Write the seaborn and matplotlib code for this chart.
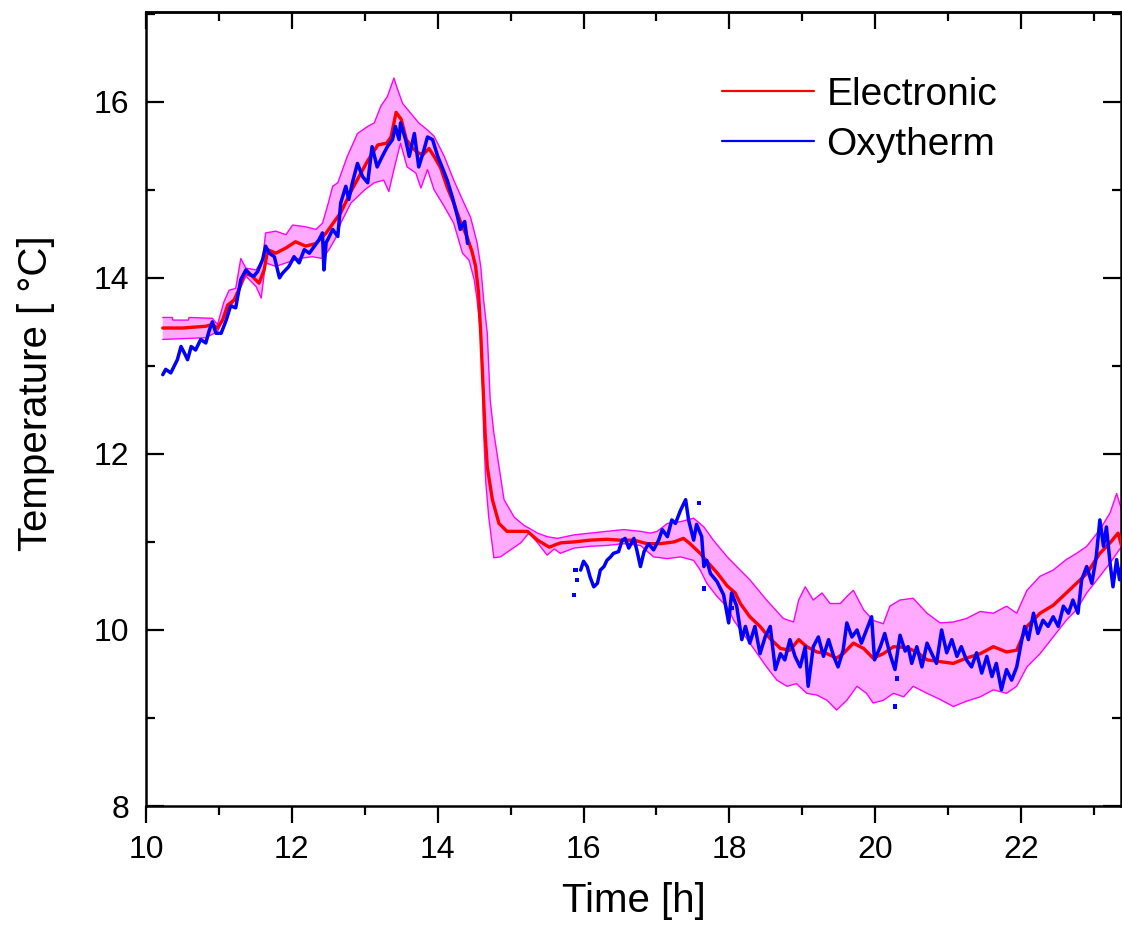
import numpy as np
import pandas as pd
import matplotlib
matplotlib.use("Agg")
import matplotlib.pyplot as plt
from matplotlib.lines import Line2D
from matplotlib.ticker import MultipleLocator
import seaborn as sns

sns.set_style("ticks")
plt.rcParams['font.family'] = ['Liberation Sans', 'DejaVu Sans']
plt.rcParams['text.color'] = 'black'
plt.rcParams['axes.labelcolor'] = 'black'
plt.rcParams['xtick.color'] = 'black'
plt.rcParams['ytick.color'] = 'black'

# Electronic sensor: mean curve (h, degC)
elec_t = [10.23, 10.50, 10.82, 10.91, 10.98, 11.05, 11.12, 11.21, 11.28, 11.35, 11.44, 11.55,
          11.62, 11.67, 11.78, 11.92, 12.05, 12.19, 12.33, 12.47, 12.60, 12.67, 12.81, 12.92,
          13.04, 13.18, 13.30, 13.36, 13.43, 13.50, 13.57, 13.66, 13.73, 13.80, 13.88, 13.95,
          14.04, 14.13, 14.22, 14.31, 14.40, 14.47, 14.52, 14.56, 14.59, 14.62, 14.65, 14.68,
          14.75, 14.84, 14.95, 15.10, 15.23, 15.37, 15.45, 15.53, 15.62, 15.69, 15.87, 16.09,
          16.32, 16.50, 16.69, 16.87, 17.05, 17.24, 17.37, 17.46, 17.60, 17.69, 17.83, 17.97,
          18.08, 18.15, 18.28, 18.42, 18.56, 18.70, 18.83, 18.95, 19.06, 19.20, 19.34, 19.47,
          19.56, 19.70, 19.84, 19.97, 20.11, 20.25, 20.43, 20.57, 20.71, 20.89, 21.07, 21.25,
          21.44, 21.62, 21.80, 21.94, 22.08, 22.26, 22.44, 22.62, 22.76, 22.90, 23.08, 23.22,
          23.33, 23.38]
elec_T = [13.43, 13.43, 13.45, 13.47, 13.43, 13.52, 13.69, 13.75, 13.88, 14.05, 14.03, 13.94,
          14.09, 14.32, 14.28, 14.34, 14.41, 14.36, 14.39, 14.51, 14.66, 14.74, 14.98, 15.15,
          15.33, 15.51, 15.53, 15.60, 15.88, 15.80, 15.57, 15.47, 15.42, 15.40, 15.47, 15.38,
          15.25, 15.03, 14.85, 14.64, 14.47, 14.30, 14.13, 13.83, 13.37, 12.80, 12.24, 11.85,
          11.48, 11.21, 11.12, 11.12, 11.12, 11.02, 10.98, 10.94, 10.97, 10.99, 11.00, 11.02,
          11.03, 11.02, 11.02, 10.98, 10.98, 11.00, 11.04, 10.98, 10.87, 10.78, 10.65, 10.50,
          10.42, 10.30, 10.15, 10.04, 9.90, 9.79, 9.77, 9.89, 9.81, 9.75, 9.73, 9.68,
          9.73, 9.85, 9.79, 9.68, 9.73, 9.81, 9.80, 9.75, 9.66, 9.64, 9.62, 9.68,
          9.73, 9.81, 9.75, 9.77, 10.04, 10.19, 10.28, 10.42, 10.53, 10.64, 10.87, 10.99,
          11.10, 10.95]

# upper edge of the uncertainty band
band_hi_t = [10.23, 10.36, 10.37, 10.58, 10.59, 10.91, 10.98, 11.07, 11.14, 11.23, 11.30, 11.37,
             11.51, 11.60, 11.64, 11.78, 11.92, 12.01, 12.19, 12.33, 12.42, 12.50, 12.56, 12.63,
             12.76, 12.90, 13.04, 13.13, 13.22, 13.31, 13.40, 13.45, 13.52, 13.63, 13.74, 13.86,
             13.95, 14.09, 14.22, 14.36, 14.45, 14.54, 14.59, 14.63, 14.68, 14.70, 14.72, 14.77,
             14.84, 14.91, 15.05, 15.18, 15.37, 15.50, 15.64, 15.87, 16.09, 16.32, 16.55, 16.78,
             16.92, 17.01, 17.15, 17.33, 17.51, 17.65, 17.78, 17.97, 18.10, 18.28, 18.51, 18.74,
             18.88, 18.95, 19.04, 19.15, 19.27, 19.38, 19.52, 19.61, 19.70, 19.84, 19.97, 20.11,
             20.20, 20.34, 20.52, 20.71, 20.89, 21.07, 21.25, 21.44, 21.62, 21.80, 21.94, 22.08,
             22.26, 22.44, 22.62, 22.76, 22.90, 23.08, 23.22, 23.31, 23.38]
band_hi_T = [13.55, 13.55, 13.52, 13.52, 13.55, 13.54, 13.47, 13.73, 13.86, 13.88, 14.22, 14.11,
             14.09, 14.21, 14.51, 14.53, 14.49, 14.60, 14.58, 14.55, 14.62, 14.85, 15.04, 15.08,
             15.38, 15.64, 15.72, 15.76, 15.95, 16.06, 16.27, 16.14, 15.98, 15.87, 15.76, 15.68,
             15.61, 15.38, 15.11, 14.85, 14.69, 14.40, 14.13, 13.75, 13.37, 12.99, 12.61, 12.24,
             11.86, 11.48, 11.28, 11.19, 11.10, 11.06, 11.04, 11.08, 11.10, 11.12, 11.14, 11.12,
             11.10, 11.12, 11.21, 11.23, 11.27, 11.17, 11.02, 10.83, 10.72, 10.57, 10.34, 10.13,
             10.09, 10.34, 10.49, 10.34, 10.42, 10.30, 10.30, 10.38, 10.45, 10.23, 10.11, 10.07,
             10.27, 10.34, 10.36, 10.19, 10.08, 10.09, 10.13, 10.21, 10.19, 10.27, 10.19, 10.45,
             10.61, 10.68, 10.80, 10.87, 10.95, 11.14, 11.33, 11.55, 11.36]

# lower edge of the uncertainty band
band_lo_t = [10.23, 10.82, 10.98, 11.10, 11.19, 11.28, 11.37, 11.51, 11.58, 11.64, 11.78, 11.92,
             12.10, 12.28, 12.42, 12.51, 12.60, 12.67, 12.81, 13.00, 13.13, 13.26, 13.33, 13.40,
             13.49, 13.58, 13.70, 13.77, 13.86, 13.95, 14.09, 14.22, 14.34, 14.43, 14.50, 14.54,
             14.59, 14.61, 14.63, 14.66, 14.70, 14.77, 14.86, 15.00, 15.14, 15.25, 15.37, 15.50,
             15.60, 15.68, 15.87, 16.09, 16.32, 16.55, 16.78, 16.96, 17.15, 17.33, 17.51, 17.60,
             17.69, 17.83, 17.97, 18.06, 18.28, 18.51, 18.65, 18.79, 18.92, 19.06, 19.20, 19.34,
             19.47, 19.61, 19.75, 19.88, 19.97, 20.11, 20.25, 20.39, 20.52, 20.71, 20.89, 21.07,
             21.25, 21.44, 21.62, 21.80, 21.94, 22.08, 22.26, 22.44, 22.62, 22.76, 22.90, 23.08,
             23.22, 23.38]
band_lo_T = [13.30, 13.32, 13.39, 13.60, 13.71, 13.86, 14.02, 13.90, 13.77, 14.17, 14.13, 14.17,
             14.22, 14.24, 14.22, 14.32, 14.45, 14.62, 14.85, 15.00, 15.08, 15.11, 14.98, 15.23,
             15.53, 15.26, 15.19, 15.02, 15.23, 15.00, 14.81, 14.62, 14.28, 14.20, 13.98, 13.75,
             13.37, 12.99, 12.24, 11.67, 11.28, 10.82, 10.83, 10.91, 10.99, 11.10, 10.99, 10.85,
             10.92, 10.87, 10.93, 10.95, 10.96, 10.98, 10.96, 10.83, 10.81, 10.83, 10.79, 10.68,
             10.53, 10.38, 10.26, 10.11, 9.85, 9.58, 9.43, 9.36, 9.39, 9.28, 9.26, 9.20,
             9.09, 9.20, 9.36, 9.28, 9.17, 9.20, 9.28, 9.24, 9.36, 9.28, 9.21, 9.13,
             9.19, 9.24, 9.32, 9.28, 9.36, 9.58, 9.73, 9.92, 10.11, 10.23, 10.42, 10.61,
             10.76, 10.95]

# Oxytherm, first run (before the drop)
oxy1_t = [10.23, 10.27, 10.34, 10.43, 10.48, 10.53, 10.57, 10.62, 10.68, 10.75, 10.82, 10.87,
          10.91, 10.96, 11.03, 11.10, 11.16, 11.23, 11.30, 11.37, 11.44, 11.48, 11.53, 11.60,
          11.64, 11.69, 11.76, 11.83, 11.87, 11.96, 12.03, 12.10, 12.17, 12.24, 12.31, 12.37,
          12.42, 12.44, 12.47, 12.49, 12.56, 12.63, 12.67, 12.74, 12.78, 12.83, 12.90, 12.97,
          13.04, 13.10, 13.17, 13.24, 13.31, 13.38, 13.42, 13.47, 13.49, 13.56, 13.61, 13.68,
          13.74, 13.81, 13.86, 13.93, 14.00, 14.06, 14.13, 14.20, 14.27, 14.31, 14.34, 14.37,
          14.41]
oxy1_T = [12.90, 12.96, 12.92, 13.07, 13.22, 13.14, 13.07, 13.22, 13.18, 13.30, 13.26, 13.41,
          13.50, 13.37, 13.37, 13.52, 13.68, 13.66, 13.98, 14.09, 14.03, 14.02, 14.07, 14.21,
          14.36, 14.28, 14.24, 14.00, 14.05, 14.13, 14.24, 14.17, 14.32, 14.28, 14.36, 14.43,
          14.51, 14.09, 14.40, 14.43, 14.55, 14.47, 14.85, 15.04, 14.89, 15.08, 15.30, 15.15,
          15.08, 15.49, 15.26, 15.38, 15.49, 15.57, 15.72, 15.57, 15.76, 15.57, 15.38, 15.64,
          15.26, 15.45, 15.60, 15.57, 15.38, 15.26, 15.11, 14.92, 14.70, 14.55, 14.60, 14.64,
          14.39]

# Oxytherm, second run
oxy2_t = [15.96, 16.00, 16.05, 16.09, 16.14, 16.19, 16.23, 16.28, 16.32, 16.37, 16.41, 16.48,
          16.53, 16.57, 16.62, 16.69, 16.73, 16.78, 16.83, 16.89, 16.96, 17.03, 17.08, 17.15,
          17.21, 17.26, 17.33, 17.40, 17.44, 17.51, 17.55, 17.62, 17.65, 17.69, 17.74, 17.83,
          17.92, 17.99, 18.03, 18.10, 18.17, 18.22, 18.28, 18.35, 18.42, 18.49, 18.56, 18.63,
          18.70, 18.76, 18.83, 18.90, 18.97, 19.04, 19.08, 19.15, 19.22, 19.29, 19.36, 19.43,
          19.49, 19.56, 19.61, 19.68, 19.75, 19.81, 19.88, 19.95, 19.99, 20.07, 20.13, 20.20,
          20.27, 20.34, 20.41, 20.45, 20.50, 20.57, 20.64, 20.71, 20.77, 20.84, 20.91, 20.98,
          21.05, 21.12, 21.18, 21.25, 21.32, 21.39, 21.46, 21.53, 21.60, 21.66, 21.73, 21.80,
          21.87, 21.94, 22.01, 22.05, 22.10, 22.17, 22.23, 22.30, 22.37, 22.44, 22.51, 22.58,
          22.65, 22.71, 22.78, 22.83, 22.90, 22.97, 23.03, 23.08, 23.13, 23.17, 23.22, 23.26,
          23.31, 23.35, 23.38]
oxy2_T = [10.68, 10.78, 10.72, 10.60, 10.49, 10.53, 10.68, 10.72, 10.79, 10.83, 10.87, 10.89,
          11.02, 11.04, 10.93, 11.04, 10.91, 10.72, 10.89, 10.98, 10.91, 11.02, 11.14, 11.06,
          11.25, 11.21, 11.36, 11.48, 11.25, 11.02, 11.20, 11.06, 10.72, 10.79, 10.64, 10.55,
          10.40, 10.08, 10.42, 10.27, 9.89, 10.04, 9.85, 10.04, 9.73, 9.92, 10.04, 9.55,
          9.73, 9.66, 9.89, 9.70, 9.58, 9.81, 9.36, 9.81, 9.92, 9.70, 9.89, 9.70,
          9.58, 9.77, 10.08, 9.92, 10.00, 9.85, 10.00, 10.15, 9.66, 9.81, 9.96, 9.73,
          9.55, 9.94, 9.76, 9.81, 9.62, 9.81, 9.58, 9.85, 9.74, 9.62, 10.00, 9.74,
          9.89, 9.70, 9.81, 9.66, 9.58, 9.74, 9.51, 9.70, 9.47, 9.62, 9.32, 9.55,
          9.43, 9.58, 9.89, 10.04, 9.89, 10.19, 9.96, 10.11, 10.04, 10.15, 10.04, 10.27,
          10.19, 10.34, 10.19, 10.57, 10.72, 10.53, 10.83, 11.25, 10.95, 11.17, 10.76, 10.49,
          10.80, 10.57, 10.72]

# isolated Oxytherm readings
dots_t = [15.87, 15.89, 15.91, 17.58, 17.65, 18.03, 20.27, 20.30]
dots_T = [10.40, 10.68, 10.57, 11.44, 10.47, 10.25, 9.13, 9.45]

RED = '#FF0000'
BLUE = '#0000FF'
MAG = '#FF00FF'
FILL = '#FFAAFF'

fig = plt.figure(figsize=(11.22, 9.3), dpi=100)
ax = fig.add_axes([146 / 1122, 124 / 930, (1121 - 146) / 1122, (806 - 12) / 930])

# band
ax.fill(np.r_[band_hi_t, band_lo_t[::-1]], np.r_[band_hi_T, band_lo_T[::-1]],
        color=FILL, lw=0, zorder=1)
sns.lineplot(x=band_hi_t, y=band_hi_T, ax=ax, color=MAG, lw=1.0, sort=False, zorder=2)
sns.lineplot(x=band_lo_t, y=band_lo_T, ax=ax, color=MAG, lw=1.0, sort=False, zorder=2)

sns.lineplot(x=elec_t, y=elec_T, ax=ax, color=RED, lw=2.4, sort=False, zorder=3)
sns.lineplot(x=oxy1_t, y=oxy1_T, ax=ax, color=BLUE, lw=2.5, sort=False, zorder=4)
sns.lineplot(x=oxy2_t, y=oxy2_T, ax=ax, color=BLUE, lw=2.5, sort=False, zorder=4)
sns.scatterplot(x=dots_t, y=dots_T, ax=ax, color=BLUE, marker='s', s=10,
                edgecolor='none', zorder=4)

ax.set_xlim(10, 10 + (1121 - 145) / 73)
ax.set_ylim(8, 17.02)
ax.xaxis.set_major_locator(MultipleLocator(2))
ax.xaxis.set_minor_locator(MultipleLocator(1))
ax.yaxis.set_major_locator(MultipleLocator(2))
ax.yaxis.set_minor_locator(MultipleLocator(1))

ax.tick_params(axis='x', which='major', direction='out', length=12, width=1.6,
               labelsize=23, pad=9)
ax.tick_params(axis='x', which='minor', direction='out', length=6.5, width=1.6)
ax.tick_params(axis='y', which='major', direction='in', length=13, width=1.6,
               labelsize=23, pad=12, right=True)
ax.tick_params(axis='y', which='minor', direction='in', length=6.5, width=1.6, right=True)

top = ax.secondary_xaxis('top')
top.xaxis.set_major_locator(MultipleLocator(2))
top.xaxis.set_minor_locator(MultipleLocator(1))
top.tick_params(which='major', direction='in', length=12, width=1.6, labeltop=False)
top.tick_params(which='minor', direction='in', length=6.5, width=1.6)
top.spines['top'].set_linewidth(1.8)

for s in ax.spines.values():
    s.set_linewidth(1.8)
    s.set_color('black')

ax.set_xlabel("Time [h]", fontsize=29, labelpad=12)
ax.set_ylabel("Temperature [ °C]", fontsize=29)
ax.yaxis.set_label_coords(-0.093, 0.52)

handles = [Line2D([], [], color=RED, lw=1.6), Line2D([], [], color=BLUE, lw=1.6)]
fig.legend(handles, ["Electronic", "Oxytherm"], loc='upper left',
           bbox_to_anchor=(722 / 1122, 1 - 77 / 930), frameon=False, fontsize=28,
           handlelength=2.36, handletextpad=0.33, labelspacing=0.36,
           borderpad=0, borderaxespad=0)

fig.savefig("out.png", dpi=100)
